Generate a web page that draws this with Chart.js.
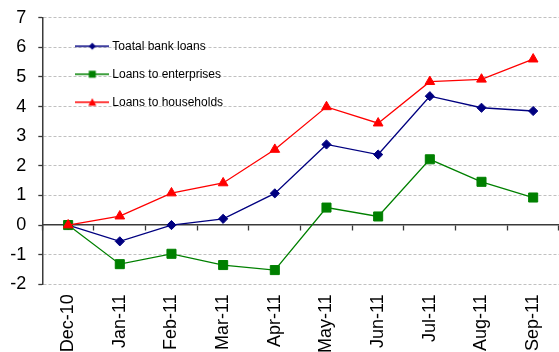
<!DOCTYPE html>
<html>
<head>
<meta charset="utf-8">
<script src="https://cdn.jsdelivr.net/npm/chart.js@4/dist/chart.umd.min.js"></script>
<style>
  html, body { margin: 0; padding: 0; background: #ffffff; }
  #wrap { width: 559px; height: 352px; position: relative; }
</style>
</head>
<body>
<div id="wrap"><canvas id="chart"></canvas></div>
<script>
// Monthly categories
const months = ['Dec-10', 'Jan-11', 'Feb-11', 'Mar-11', 'Apr-11', 'May-11',
                'Jun-11', 'Jul-11', 'Aug-11', 'Sep-11'];

// Series names
const seriesNames = ['Toatal bank loans', 'Loans to enterprises', 'Loans to households'];

// Cumulative change since Dec-10
const totalLoans      = [0, -0.55, 0.00, 0.21, 1.07, 2.72, 2.38, 4.35, 3.96, 3.85];
const enterpriseLoans = [0, -1.32, -0.97, -1.35, -1.52, 0.59, 0.29, 2.22, 1.46, 0.93];
const householdLoans  = [0, 0.30, 1.08, 1.42, 2.55, 3.99, 3.44, 4.84, 4.92, 5.60];

// Value axis range
const yMin = -2;
const yMax = 7;
const yStep = 1;

const FONT = "'Liberation Sans', Arial, Helvetica, sans-serif";
const AXIS_DARK = '#3a3a3a';
const GRID_GREY = '#c0c0c0';

Chart.defaults.font.family = FONT;
Chart.defaults.color = '#000000';

// Small line-and-marker keys for the legend
function legendKey(color, shape) {
  const c = document.createElement('canvas');
  c.width = 34; c.height = 12;
  const g = c.getContext('2d');
  g.strokeStyle = color; g.fillStyle = color; g.lineWidth = 1.3;
  g.beginPath(); g.moveTo(0, 6); g.lineTo(34, 6); g.stroke();
  g.beginPath();
  if (shape === 'diamond') {
    g.moveTo(17, 2.5); g.lineTo(20.5, 6); g.lineTo(17, 9.5); g.lineTo(13.5, 6);
  } else if (shape === 'square') {
    g.rect(13.5, 2.5, 7, 7);
  } else {
    g.moveTo(17, 2); g.lineTo(21, 9.5); g.lineTo(13, 9.5);
  }
  g.closePath(); g.fill();
  return c;
}

const colors = ['#000080', '#008000', '#ff0000'];
const keys = [
  legendKey(colors[0], 'diamond'),
  legendKey(colors[1], 'square'),
  legendKey(colors[2], 'triangle')
];

// Places the legend block in the upper left of the plot area
const legendPlacement = {
  id: 'legendPlacement',
  afterLayout(chart) {
    const lg = chart.legend;
    if (!lg) return;
    const w = lg.width, h = lg.height;
    lg.left = chart.chartArea.left + 20;
    lg.top = chart.chartArea.top + 6.5;
    lg.right = lg.left + w;
    lg.bottom = lg.top + h;
  }
};

// Axes keep no extra edge padding, so the plot spans to the right border
function noEdgePadding(scale) {
  scale.paddingLeft = 0;
  scale.paddingRight = 0;
  scale.paddingTop = 0;
  scale.paddingBottom = 0;
}

new Chart(document.getElementById('chart'), {
  type: 'line',
  data: {
    labels: months,
    datasets: [
      {
        label: seriesNames[0], data: totalLoans, xAxisID: 'x', yAxisID: 'y',
        borderColor: colors[0], backgroundColor: colors[0],
        borderWidth: 1.3, pointStyle: 'rectRot', pointRadius: 4.6,
        pointBorderWidth: 1, tension: 0, order: 2
      },
      {
        label: seriesNames[1], data: enterpriseLoans, xAxisID: 'x', yAxisID: 'y',
        borderColor: colors[1], backgroundColor: colors[1],
        borderWidth: 1.3, pointStyle: 'rect', pointRadius: 6.4,
        pointBorderWidth: 1, tension: 0, order: 1
      },
      {
        label: seriesNames[2], data: householdLoans, xAxisID: 'x', yAxisID: 'y',
        borderColor: colors[2], backgroundColor: colors[2],
        borderWidth: 1.3, pointStyle: 'triangle', pointRadius: 5.6,
        pointBorderWidth: 1, tension: 0, order: 0
      }
    ]
  },
  options: {
    responsive: true,
    maintainAspectRatio: false,
    animation: false,
    events: [],
    layout: { autoPadding: false, padding: { left: 10, top: 17.7, right: 0, bottom: 0 } },
    plugins: {
      tooltip: { enabled: false },
      title: { display: false },
      legend: {
        position: 'chartArea',
        align: 'start',
        labels: {
          usePointStyle: true,
          pointStyleWidth: 28,
          boxHeight: 12,
          padding: 16,
          color: '#000000',
          font: { size: 12, family: FONT },
          sort: (a, b) => a.datasetIndex - b.datasetIndex,
          generateLabels(chart) {
            const items = Chart.defaults.plugins.legend.labels.generateLabels(chart);
            return items.map(it => Object.assign(it, { pointStyle: keys[it.datasetIndex] }));
          }
        }
      }
    },
    scales: {
      x: {
        type: 'category',
        position: 'bottom',
        offset: true,
        grid: { display: false, drawTicks: false },
        border: { display: false },
        ticks: {
          autoSkip: false,
          minRotation: 90,
          maxRotation: 90,
          padding: 10,
          color: '#000000',
          font: { size: 18, family: FONT }
        },
        afterFit(scale) {
          scale.height = 67.7;
          noEdgePadding(scale);
        }
      },
      // Category axis drawn along the zero line
      x2: {
        type: 'category',
        axis: 'x',
        labels: months,
        position: { y: 0 },
        offset: true,
        grid: {
          offset: true,
          drawOnChartArea: false,
          drawTicks: true,
          tickLength: 5,
          tickColor: AXIS_DARK,
          tickWidth: 1.3
        },
        border: { display: true, color: AXIS_DARK, width: 1.5 },
        ticks: { display: false },
        afterFit(scale) {
          noEdgePadding(scale);
        }
      },
      y: {
        min: yMin,
        max: yMax,
        ticks: {
          stepSize: yStep,
          padding: 12,
          color: '#000000',
          font: { size: 18, family: FONT }
        },
        grid: {
          color: ctx => (ctx.tick && ctx.tick.value === 0) ? 'rgba(0,0,0,0)' : GRID_GREY,
          lineWidth: 1,
          tickLength: 4,
          tickColor: AXIS_DARK,
          tickWidth: 1.3
        },
        border: { display: true, color: AXIS_DARK, width: 1.5, dash: [3, 2] },
        afterFit(scale) {
          scale.width = 32.3;
          noEdgePadding(scale);
        }
      }
    }
  },
  plugins: [legendPlacement]
});
</script>
</body>
</html>
